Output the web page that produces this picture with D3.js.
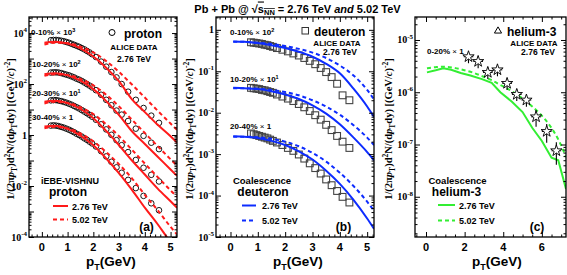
<!DOCTYPE html>
<head>
<meta charset="UTF-8">
<style>
  *{ margin: 0px; }
  body{ background-color: white; }
  svg{ position: absolute; left: 0; top: 0; }
  text{ font-family: "Liberation Sans", Arial, sans-serif; font-weight: bold; }
  .serif{ font-family: "Liberation Serif", "Times New Roman", serif; }
</style>
<script src="https://cdn.jsdelivr.net/npm/d3@7"></script>
</head>
<body>
<svg id="fig" width="567" height="275"></svg>
<script>
// ---- proton, ALICE 2.76 TeV (scaled) ----
var protonPt = [0.35,0.45,0.55,0.65,0.75,0.85,0.95,1.05,1.15,1.25,1.35,1.45,1.55,1.65,1.75,1.85,1.95,
  2.1,2.3,2.5,2.7,2.9,3.1,3.35,3.65,3.95,4.25,4.55];
var proton0010 = [5250,5370,5370,5250,5010,4790,4470,4170,3800,3470,3160,2880,2570,2290,2000,1740,1480,
  1150,760,480,295,182,100,50,24,11.5,5.75,3.0];
var proton1020 = [282,288,288,282,269,251,234,219,200,182,162,148,132,115,100,87,74,
  57.5,38,24,14.8,9.1,6.3,3.55,1.78,0.93,0.5,0.28];
var proton2030 = [22.9,23.4,23.4,22.4,21.4,20.0,18.6,17.0,15.5,13.8,12.3,11.0,9.55,8.3,7.2,6.2,5.25,
  3.98,2.63,1.66,1.02,0.63,0.40,0.214,0.105,0.052,0.0275,0.0151];
var proton3040 = [2.34,2.40,2.34,2.24,2.09,1.95,1.78,1.62,1.45,1.29,1.12,1.0,0.87,0.74,0.65,0.55,0.47,
  0.355,0.234,0.145,0.089,0.054,0.033,0.0174,0.0083,0.0041,0.0021,0.00112];

// ---- iEBE-VISHNU proton ----
var modelPt = [0.1,0.5,1,1.5,2,2.5,3,3.5,4,4.5,5,5.25];
var vishnu276_0010 = [4170,4570,3890,2510,1200,437,126,25.1,7.94,2.51,0.891,0.501];
var vishnu502_0010 = [3550,4170,3980,2950,1740,794,295,95.5,29.5,8.91,2.82,1.58];
var vishnu276_1020 = [240,263,219,135,63.1,21.4,6.03,1.41,0.447,0.141,0.0447,0.0251];
var vishnu502_1020 = [209,240,224,158,89.1,38,13.2,3.98,1.2,0.363,0.112,0.0631];
var vishnu276_2030 = [20,21.9,17.8,10.5,4.57,1.45,0.398,0.1,0.0282,0.00794,0.00251,0.00141];
var vishnu502_2030 = [17.4,20,18.2,12.3,6.61,2.63,0.891,0.263,0.0759,0.0224,0.00676,0.0038];
var vishnu276_3040 = [2.14,2.29,1.74,0.955,0.398,0.12,0.0316,0.00708,0.00141,3.16e-4,6.3e-5,3.16e-5];
var vishnu502_3040 = [1.86,2.09,1.82,1.15,0.562,0.214,0.0708,0.02,0.00447,0.00112,2.51e-4,1.26e-4];

// ---- deuteron, ALICE 2.76 TeV (scaled) ----
var deuteronPt = [0.75,0.85,0.95,1.05,1.15,1.25,1.35,1.45,1.55,1.7,1.9,2.1,2.3,2.5,2.7,2.9,3.1,3.3,3.5,3.7,3.9,4.1,4.35];
var deuteron0010 = [0.501,0.490,0.479,0.468,0.457,0.437,0.427,0.407,0.389,0.363,0.331,0.302,0.269,0.240,0.209,
  0.178,0.148,0.120,0.0955,0.0724,0.050,0.0263,0.020];
var deuteron1020 = [0.0398,0.0389,0.0380,0.0372,0.0355,0.0347,0.0331,0.0316,0.0302,0.0275,0.0245,0.0219,0.0191,
  0.0162,0.0135,0.0110,0.0087,0.0068,0.0051,0.0038,0.00275,0.0020,0.00141];
var deuteron2040 = [3.16e-3,3.02e-3,2.88e-3,2.75e-3,2.63e-3,2.51e-3,2.40e-3,2.24e-3,2.09e-3,1.91e-3,1.66e-3,1.41e-3,
  1.20e-3,9.8e-4,7.8e-4,6.0e-4,4.6e-4,3.4e-4,2.45e-4,1.78e-4,1.29e-4,9.3e-5,6.8e-5];

// ---- coalescence deuteron ----
var coal276_d0010 = [0.525,0.513,0.479,0.427,0.363,0.295,0.224,0.151,0.0891,0.038,0.0141,0.0079];
var coal502_d0010 = [0.513,0.513,0.49,0.457,0.407,0.347,0.282,0.209,0.138,0.0794,0.0355,0.0209];
var coal276_d1020 = [0.0398,0.0389,0.0372,0.0331,0.0275,0.0214,0.0151,0.0095,0.00525,0.00251,0.00112,7.1e-4];
var coal502_d1020 = [0.0389,0.0389,0.038,0.0355,0.0316,0.0263,0.02,0.0141,0.0089,0.005,0.00251,0.00166];
var coal276_d2040 = [2.69e-3,2.63e-3,2.45e-3,2.09e-3,1.66e-3,1.17e-3,7.4e-4,3.98e-4,1.91e-4,7.9e-5,2.8e-5,1.58e-5];
var coal502_d2040 = [2.63e-3,2.63e-3,2.57e-3,2.34e-3,2.0e-3,1.55e-3,1.07e-3,6.6e-4,3.55e-4,1.7e-4,7.1e-5,4.3e-5];

// ---- helium-3, ALICE 2.76 TeV 0-20% ----
var heliumPt = [2.2,2.7,3.2,3.7,4.2,4.7,5.2,5.7,6.25,6.75];
var helium0020 = [4.79e-6,3.89e-6,2.40e-6,2.69e-6,1.48e-6,9.1e-7,7.1e-7,3.39e-7,1.78e-7,7.6e-8];
var heliumErr = [1.2e-6,1.0e-6,0.6e-6,0.67e-6,3.7e-7,2.3e-7,1.8e-7,1.2e-7,0.7e-7,3.5e-8];

// ---- coalescence helium-3 ----
var coal276_hePt = [0.05,0.5,0.9,1.3,1.8,2.3,2.9,3.4,3.85,4.45,5.0,5.5,6.0,6.5,6.85,7.25];
var coal276_he = [2.40e-6,2.63e-6,2.88e-6,2.69e-6,2.34e-6,2.09e-6,1.78e-6,1.51e-6,1.0e-6,6.6e-7,4.17e-7,2.09e-7,
  1.17e-7,5.6e-8,5.0e-8,1.41e-8];
var coal502_hePt = [0.05,0.5,0.9,1.4,1.9,2.4,2.9,3.4,3.9,4.4,4.9,5.4,5.9,6.4,6.9,7.25];
var coal502_he = [2.88e-6,3.02e-6,3.09e-6,2.95e-6,2.69e-6,2.40e-6,2.04e-6,1.70e-6,1.35e-6,1.07e-6,8.1e-7,5.75e-7,
  3.89e-7,2.34e-7,1.15e-7,5.75e-8];

var svg = d3.select("#fig");
var RED = "#ff1a1a", BLUE = "#0d2cff", GREEN = "#33ee33";

function makePanel(o){
  var x = d3.scaleLinear().domain(o.xd).range([o.x0, o.x1]);
  var y = d3.scaleLog().domain(o.yd).range([o.y1, o.y0]);
  var g = svg.append("g");
  svg.append("clipPath").attr("id", "clip" + o.name)
    .append("rect").attr("x", o.x0).attr("y", o.y0)
    .attr("width", o.x1 - o.x0).attr("height", o.y1 - o.y0);
  var plot = g.append("g").attr("clip-path", "url(#clip" + o.name + ")");
  return {x: x, y: y, g: g, plot: plot, o: o};
}

function drawLine(p, pt, vals, color, dashed, curve){
  var line = d3.line().x(d => p.x(d[0])).y(d => p.y(d[1])).curve(curve || d3.curveMonotoneX);
  p.plot.append("path").datum(d3.zip(pt, vals))
    .attr("d", line).attr("fill", "none").attr("stroke", color)
    .attr("stroke-width", 2).attr("stroke-dasharray", dashed ? "4,3" : null);
}

function frame(p, xMajor, xMinor, yLabels){
  var o = p.o;
  var lo = Math.log10(o.yd[0]), hi = Math.log10(o.yd[1]);
  var yMajor = [], yMinor = [];
  for(var k = Math.floor(lo); k <= Math.ceil(hi); k++){
    var v = Math.pow(10, k);
    if(k >= lo - 1e-9 && k <= hi + 1e-9) yMajor.push(v);
    for(var m = 2; m <= 9; m++){
      var w = m * v;
      if(Math.log10(w) > lo && Math.log10(w) < hi) yMinor.push(w);
    }
  }
  var ax = p.g.append("g");
  function put(axis, tx, ty){
    ax.append("g").attr("transform", "translate(" + tx + "," + ty + ")")
      .call(axis.tickFormat(""))
      .call(s => s.select(".domain").remove())
      .call(s => s.selectAll("line").attr("stroke", "black").attr("stroke-width", 1));
  }
  put(d3.axisBottom(p.x).tickValues(xMajor).tickSize(-5), 0, o.y1);
  put(d3.axisBottom(p.x).tickValues(xMinor).tickSize(-2.5), 0, o.y1);
  put(d3.axisTop(p.x).tickValues(xMajor).tickSize(-5), 0, o.y0);
  put(d3.axisTop(p.x).tickValues(xMinor).tickSize(-2.5), 0, o.y0);
  put(d3.axisLeft(p.y).tickValues(yMajor).tickSize(-5), o.x0, 0);
  put(d3.axisLeft(p.y).tickValues(yMinor).tickSize(-2.5), o.x0, 0);
  put(d3.axisRight(p.y).tickValues(yMajor).tickSize(-5), o.x1, 0);
  put(d3.axisRight(p.y).tickValues(yMinor).tickSize(-2.5), o.x1, 0);

  p.g.append("rect").attr("x", o.x0).attr("y", o.y0)
    .attr("width", o.x1 - o.x0).attr("height", o.y1 - o.y0)
    .attr("fill", "none").attr("stroke", "black").attr("stroke-width", 1.3);

  // x tick labels
  o.xLabels.forEach(function(v){
    p.g.append("text").attr("x", p.x(v)).attr("y", o.y1 + 14)
      .attr("text-anchor", "middle").attr("font-size", "11px").attr("font-weight", "normal").text(v);
  });
  // y tick labels
  yLabels.forEach(function(v){
    var e = Math.round(Math.log10(v));
    var t = p.g.append("text").attr("class", "serif").attr("x", o.x0 - 2).attr("y", p.y(v) + 3.5)
      .attr("text-anchor", "end").attr("font-size", "10px");
    if(e === 0){ t.text("1"); }
    else{
      t.append("tspan").text("10");
      t.append("tspan").attr("dy", -4.5).attr("font-size", "7px").text(e);
    }
  });
  // x title
  var xt = p.g.append("text").attr("x", o.xTitle).attr("y", 266).attr("text-anchor", "middle").attr("font-size", "13.5px");
  xt.append("tspan").text("p");
  xt.append("tspan").attr("dy", 4).attr("font-size", "9px").text("T");
  xt.append("tspan").attr("dy", -4).text("(GeV)");
  // y title
  var yt = p.g.append("text").attr("class", "serif")
    .attr("transform", "translate(" + o.yTitle + ",129) rotate(-90)")
    .attr("text-anchor", "middle").attr("font-size", "10.5px");
  yt.append("tspan").text("1/(2\u03c0");
  yt.append("tspan").attr("font-style", "italic").text("p");
  yt.append("tspan").attr("dy", 3).attr("font-size", "7.5px").text("T");
  yt.append("tspan").attr("dy", -3).text(")d");
  yt.append("tspan").attr("dy", -4).attr("font-size", "7.5px").text("2");
  yt.append("tspan").attr("dy", 4).text("N/(d");
  yt.append("tspan").attr("font-style", "italic").text("p");
  yt.append("tspan").attr("dy", 3).attr("font-size", "7.5px").text("T");
  yt.append("tspan").attr("dy", -3).text("dy) [(GeV/");
  yt.append("tspan").attr("font-style", "italic").text("c");
  yt.append("tspan").text(")");
  yt.append("tspan").attr("dy", -4).attr("font-size", "7.5px").text("-2");
  yt.append("tspan").attr("dy", 4).text("]");
}

function label(g, x, y, txt, size, anchor, weight){
  return g.append("text").attr("x", x).attr("y", y).attr("font-size", size)
    .attr("text-anchor", anchor || "start").attr("font-weight", weight || "bold").text(txt);
}

function centLabel(g, x, y, cent, exp){
  var t = g.append("text").attr("x", x).attr("y", y).attr("font-size", "8px");
  t.append("tspan").text(cent + " ");
  t.append("tspan").attr("font-weight", "normal").text("\u00d7 ");
  if(exp === null){ t.append("tspan").text("1"); }
  else{
    t.append("tspan").text("10");
    t.append("tspan").attr("dy", -3.5).attr("font-size", "5.5px").text(exp);
  }
}

function legendLines(g, x1, x2, color, y1, y2, tx){
  g.append("line").attr("x1", x1).attr("x2", x2).attr("y1", y1).attr("y2", y1)
    .attr("stroke", color).attr("stroke-width", 2);
  g.append("line").attr("x1", x1).attr("x2", x2).attr("y1", y2).attr("y2", y2)
    .attr("stroke", color).attr("stroke-width", 2).attr("stroke-dasharray", "4,3");
  label(g, tx, y1 + 3.5, "2.76 TeV", "9px");
  label(g, tx, y2 + 3.5, "5.02 TeV", "9px");
}

// ================= panel (a) proton =================
var pa = makePanel({name: "a", x0: 29, x1: 177, y0: 17, y1: 237,
  xd: [-0.5, 5.25], yd: [1e-4, Math.pow(10, 4.63)], xLabels: [0,1,2,3,4,5], xTitle: 111, yTitle: 14});
[proton0010, proton1020, proton2030, proton3040].forEach(function(s){
  pa.plot.append("g").selectAll("circle").data(d3.zip(protonPt, s)).join("circle")
    .attr("cx", d => pa.x(d[0])).attr("cy", d => pa.y(d[1])).attr("r", 2.8)
    .attr("fill", "none").attr("stroke", "black").attr("stroke-width", 0.9);
});
[[vishnu276_0010, vishnu502_0010], [vishnu276_1020, vishnu502_1020],
 [vishnu276_2030, vishnu502_2030], [vishnu276_3040, vishnu502_3040]].forEach(function(pair){
  drawLine(pa, modelPt, pair[1], RED, true);
  drawLine(pa, modelPt, pair[0], RED, false);
});
frame(pa, d3.range(0, 5.01, 1), d3.range(-0.4, 5.25, 0.2).filter(v => Math.abs(v - Math.round(v)) > 0.01),
  [1e4, 1e2, 1, 1e-2, 1e-4]);
centLabel(pa.g, 31, 35, "0-10%", 3);
centLabel(pa.g, 32, 67, "10-20%", 2);
centLabel(pa.g, 32, 96, "20-30%", 1);
centLabel(pa.g, 32, 120, "30-40%", null);
pa.g.append("circle").attr("cx", 112).attr("cy", 32.5).attr("r", 3).attr("fill", "none").attr("stroke", "black");
label(pa.g, 124, 37.5, "proton", "12px");
label(pa.g, 134, 50, "ALICE DATA", "8px", "middle");
label(pa.g, 134, 61.5, "2.76 TeV", "8.5px", "middle");
label(pa.g, 70, 183.5, "iEBE-VISHNU", "9px", "middle");
label(pa.g, 68, 196, "proton", "12px", "middle");
legendLines(pa.g, 53, 68, RED, 206, 219.5, 72);
label(pa.g, 146.5, 230.5, "(a)", "12px", "middle");

// ================= panel (b) deuteron =================
var pb = makePanel({name: "b", x0: 216, x1: 374, y0: 17, y1: 237,
  xd: [-0.53, 5.25], yd: [1e-5, Math.pow(10, 0.31)], xLabels: [0,1,2,3,4,5], xTitle: 298, yTitle: 193});
[deuteron0010, deuteron1020, deuteron2040].forEach(function(s){
  pb.plot.append("g").selectAll("rect").data(d3.zip(deuteronPt, s)).join("rect")
    .attr("x", d => pb.x(d[0]) - 3.4).attr("y", d => pb.y(d[1]) - 3.4).attr("width", 6.8).attr("height", 6.8)
    .attr("fill", "none").attr("stroke", "#444").attr("stroke-width", 1.1);
});
[[coal276_d0010, coal502_d0010], [coal276_d1020, coal502_d1020], [coal276_d2040, coal502_d2040]].forEach(function(pair){
  drawLine(pb, modelPt, pair[1], BLUE, true);
  drawLine(pb, modelPt, pair[0], BLUE, false);
});
frame(pb, d3.range(0, 5.01, 1), d3.range(-0.4, 5.25, 0.2).filter(v => Math.abs(v - Math.round(v)) > 0.01),
  [1, 1e-1, 1e-2, 1e-3, 1e-4, 1e-5]);
centLabel(pb.g, 230, 35, "0-10%", 2);
centLabel(pb.g, 230, 82, "10-20%", 1);
centLabel(pb.g, 230, 129, "20-40%", null);
pb.g.append("rect").attr("x", 302).attr("y", 27.5).attr("width", 6.5).attr("height", 6.5)
  .attr("fill", "none").attr("stroke", "#333");
label(pb.g, 314, 35.5, "deuteron", "12px");
label(pb.g, 337, 45.5, "ALICE DATA", "8px", "middle");
label(pb.g, 340, 55, "2.76 TeV", "8.5px", "middle");
label(pb.g, 262, 184, "Coalescence", "9.5px", "middle");
label(pb.g, 263, 196, "deuteron", "12px", "middle");
legendLines(pb.g, 242, 256, BLUE, 205.5, 220.5, 262);
label(pb.g, 343.5, 230.5, "(b)", "12px", "middle");

// ================= panel (c) helium-3 =================
var pc = makePanel({name: "c", x0: 415, x1: 566, y0: 17, y1: 237,
  xd: [-0.57, 7.25], yd: [Math.pow(10, -8.77), Math.pow(10, -4.56)], xLabels: [0,2,4,6], xTitle: 497, yTitle: 392});
drawLine(pc, coal502_hePt, coal502_he, GREEN, true);
drawLine(pc, coal276_hePt, coal276_he, GREEN, false, d3.curveLinear);
var he = d3.zip(heliumPt, helium0020, heliumErr);
pc.plot.append("g").selectAll("line.ey").data(he).join("line")
  .attr("x1", d => pc.x(d[0])).attr("x2", d => pc.x(d[0]))
  .attr("y1", d => pc.y(d[1] + d[2])).attr("y2", d => pc.y(d[1] - d[2]))
  .attr("stroke", "black").attr("stroke-width", 1.1);
pc.plot.append("g").selectAll("line.ex").data(he).join("line")
  .attr("x1", d => pc.x(d[0] - 0.25)).attr("x2", d => pc.x(d[0] + 0.25))
  .attr("y1", d => pc.y(d[1])).attr("y2", d => pc.y(d[1]))
  .attr("stroke", "black").attr("stroke-width", 1.1);
pc.plot.append("g").selectAll("path").data(he).join("path")
  .attr("d", d3.symbol(d3.symbolStar, 40))
  .attr("transform", d => "translate(" + pc.x(d[0]) + "," + pc.y(d[1]) + ")")
  .attr("fill", "white").attr("stroke", "black").attr("stroke-width", 0.9);
frame(pc, d3.range(0, 7.01, 2), d3.range(-0.5, 7.25, 0.5).filter(v => Math.abs(v / 2 - Math.round(v / 2)) > 0.01),
  [1e-5, 1e-6, 1e-7, 1e-8]);
centLabel(pc.g, 427, 54, "0-20%", null);
pc.g.append("path").attr("d", d3.symbol(d3.symbolTriangle, 22))
  .attr("transform", "translate(498,31)").attr("fill", "none").attr("stroke", "black");
label(pc.g, 507, 35.5, "helium-3", "12px");
label(pc.g, 534, 45.5, "ALICE DATA", "8px", "middle");
label(pc.g, 538, 55, "2.76 TeV", "8.5px", "middle");
label(pc.g, 457.5, 184, "Coalescence", "9.5px", "middle");
label(pc.g, 456.5, 196, "helium-3", "12px", "middle");
legendLines(pc.g, 438, 455, GREEN, 205, 220.5, 459);
label(pc.g, 537, 230.5, "(c)", "12px", "middle");

// ================= title =================
var title = svg.append("text").attr("x", 297.5).attr("y", 12.5).attr("text-anchor", "middle").attr("font-size", "11px");
title.append("tspan").text("Pb + Pb @ \u221a");
title.append("tspan").attr("text-decoration", "overline").text("s");
title.append("tspan").attr("dy", 2.5).attr("font-size", "7.5px").attr("text-decoration", "overline").text("NN");
title.append("tspan").attr("dy", -2.5).text(" = 2.76 TeV ");
title.append("tspan").attr("font-style", "italic").text("and");
title.append("tspan").text(" 5.02 TeV");
</script>
</body>
